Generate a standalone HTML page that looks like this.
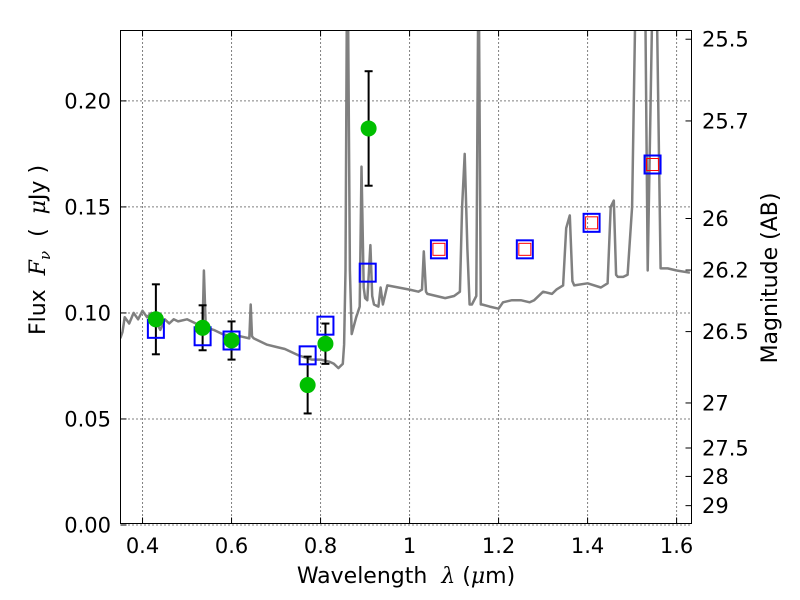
<!DOCTYPE html>
<html><head><meta charset="utf-8"><style>
html,body{margin:0;padding:0;background:#fff;}
svg{display:block;font-family:"DejaVu Sans","Liberation Sans",sans-serif;}
svg text{white-space:pre;}
</style></head><body>
<svg id="chart" width="800" height="600" viewBox="0 0 800 600">
<rect width="800" height="600" fill="#fff"/>
<g id="grid"></g>
<g id="spec"></g>
<g id="marks"></g>
<rect x="120.5" y="30.5" width="571" height="493" fill="none" stroke="#000" stroke-width="1"/>
<g id="axes"></g>
<text x="406" y="583" font-size="22" text-anchor="middle">Wavelength  <tspan font-family="DejaVu Serif" font-style="italic">λ</tspan> (<tspan font-family="DejaVu Serif" font-style="italic">μ</tspan>m)</text>
<text transform="translate(45,250) rotate(-90)" font-size="22" text-anchor="middle">Flux  <tspan font-family="DejaVu Serif" font-style="italic">F</tspan><tspan font-family="DejaVu Serif" font-style="italic" font-size="15" dy="5">ν</tspan><tspan dy="-5">  (  </tspan><tspan font-family="DejaVu Serif" font-style="italic">μ</tspan>Jy )</text>
<text transform="translate(777,278) rotate(-90)" font-size="22" text-anchor="middle">Magnitude (AB)</text>
</svg>
<script>
const xTicks=[0.4,0.6,0.8,1.0,1.2,1.4,1.6];
const xTickLabels=["0.4","0.6","0.8","1","1.2","1.4","1.6"];
const yTicks=[0,0.05,0.1,0.15,0.2];
const yTickLabels=["0.00","0.05","0.10","0.15","0.20"];
const magTicks=[25.5,25.7,26,26.2,26.5,27,27.5,28,29];
const magTickLabels=["25.5","25.7","26","26.2","26.5","27","27.5","28","29"];
const specWave=[0.35,0.355,0.36,0.37,0.38,0.39,0.40,0.41,0.42,0.43,0.44,0.45,0.46,0.47,0.48,0.50,0.52,0.53,0.535,0.538,0.542,0.545,0.56,0.58,0.60,0.62,0.64,0.643,0.646,0.65,0.68,0.70,0.72,0.75,0.78,0.80,0.82,0.83,0.84,0.85,0.853,0.856,0.859,0.862,0.866,0.87,0.88,0.888,0.892,0.897,0.90,0.905,0.912,0.916,0.92,0.93,0.935,0.94,0.95,1.0,1.02,1.028,1.032,1.037,1.04,1.06,1.08,1.10,1.113,1.118,1.124,1.130,1.135,1.14,1.15,1.154,1.156,1.160,1.163,1.18,1.20,1.21,1.23,1.25,1.27,1.28,1.30,1.32,1.33,1.345,1.352,1.360,1.366,1.37,1.40,1.43,1.445,1.452,1.459,1.464,1.468,1.48,1.49,1.50,1.507,1.515,1.530,1.535,1.545,1.549,1.556,1.564,1.58,1.60,1.63];
const specFlux=[0.088,0.091,0.098,0.095,0.100,0.097,0.101,0.098,0.100,0.096,0.092,0.097,0.095,0.097,0.096,0.097,0.095,0.092,0.094,0.120,0.094,0.093,0.092,0.090,0.089,0.089,0.088,0.104,0.089,0.088,0.085,0.084,0.083,0.080,0.078,0.078,0.077,0.076,0.074,0.076,0.085,0.120,0.24,0.24,0.12,0.090,0.098,0.103,0.169,0.112,0.107,0.106,0.132,0.108,0.104,0.103,0.112,0.104,0.113,0.111,0.110,0.111,0.129,0.110,0.109,0.108,0.107,0.108,0.110,0.150,0.175,0.130,0.104,0.104,0.108,0.24,0.24,0.104,0.104,0.103,0.102,0.105,0.106,0.106,0.105,0.106,0.110,0.109,0.111,0.113,0.140,0.146,0.115,0.113,0.114,0.112,0.114,0.150,0.153,0.118,0.117,0.117,0.118,0.15,0.24,0.24,0.24,0.120,0.24,0.24,0.24,0.121,0.121,0.120,0.119];
const photWave=[0.43,0.535,0.60,0.771,0.811,0.908];
const photFlux=[0.097,0.093,0.087,0.066,0.0855,0.187];
const photErr=[0.0165,0.0106,0.009,0.0134,0.0095,0.027];
const modelWave=[0.43,0.535,0.60,0.771,0.811,0.906,1.066,1.259,1.409,1.546];
const modelFlux=[0.0925,0.089,0.087,0.080,0.094,0.119,0.130,0.130,0.1425,0.170];
const irWave=[1.066,1.259,1.409,1.546];
const irFlux=[0.130,0.130,0.1425,0.170];

const NS="http://www.w3.org/2000/svg";
const X0=120.5,X1=691.5,Y0=30.5,Y1=523.5;
const xMin=0.3505,xMax=1.6335,yMin=0.0007,yMax=0.2332;
const sx=v=>X0+(v-xMin)/(xMax-xMin)*(X1-X0);
const sy=v=>Y1-(v-yMin)/(yMax-yMin)*(Y1-Y0);
const magToFlux=m=>Math.pow(10,(23.9-m)/2.5);
function mk(tag,attrs,parent){const e=document.createElementNS(NS,tag);for(const k in attrs)e.setAttribute(k,attrs[k]);parent.appendChild(e);return e;}
const grid=document.getElementById('grid'),axes=document.getElementById('axes'),spec=document.getElementById('spec'),marks=document.getElementById('marks');

xTicks.forEach((t,i)=>{const x=sx(t);
 const g=mk('line',{x1:x,x2:x,y1:Y0,y2:Y1,stroke:'#000','stroke-width':1,'stroke-dasharray':'1,3'},grid);
 
 
 mk('line',{x1:x,x2:x,y1:Y1,y2:Y1-6,stroke:'#000'},axes);
 mk('line',{x1:x,x2:x,y1:Y0,y2:Y0+6,stroke:'#000'},axes);
 const tx=mk('text',{x:x,y:553,'font-size':21,'text-anchor':'middle'},axes);tx.textContent=xTickLabels[i];
 
 
});
yTicks.forEach((t,i)=>{const y=sy(t);
 const g=mk('line',{x1:X0,x2:X1,y1:y,y2:y,stroke:'#000','stroke-width':1,'stroke-dasharray':'1,3'},grid);
 
 
 mk('line',{x1:X0,x2:X0+6,y1:y,y2:y,stroke:'#000'},axes);
 const tx=mk('text',{x:111,y:y+7.5,'font-size':21,'text-anchor':'end'},axes);tx.textContent=yTickLabels[i];
 
 
});
magTicks.forEach((m,i)=>{const y=sy(magToFlux(m));
 mk('line',{x1:X1,x2:X1-6,y1:y,y2:y,stroke:'#000'},axes);
 const tx=mk('text',{x:702,y:y+7.5,'font-size':21},axes);tx.textContent=magTickLabels[i];
 
 
});

const clip=mk('clipPath',{id:'pc'},document.getElementById('chart'));
mk('rect',{x:X0,y:Y0,width:X1-X0,height:Y1-Y0},clip);
spec.setAttribute('clip-path','url(#pc)');
const pts=specWave.map((w,i)=>sx(w).toFixed(1)+','+sy(specFlux[i]).toFixed(1)).join(' ');
const pl=mk('polyline',{points:pts,fill:'none',stroke:'#808080','stroke-width':2.5,'stroke-linejoin':'round'},spec);



photWave.forEach((w,i)=>{const x=sx(w),y=sy(photFlux[i]),ya=sy(photFlux[i]+photErr[i]),yb=sy(photFlux[i]-photErr[i]);
 const eb=mk('g',{},marks);
 
 
 mk('line',{x1:x,x2:x,y1:ya,y2:yb,stroke:'#000','stroke-width':2},eb);
 mk('line',{x1:x-4,x2:x+4,y1:ya,y2:ya,stroke:'#000','stroke-width':2},eb);
 mk('line',{x1:x-4,x2:x+4,y1:yb,y2:yb,stroke:'#000','stroke-width':2},eb);
});
modelWave.forEach((w,i)=>{const x=sx(w),y=sy(modelFlux[i]);
 const r=mk('rect',{x:x-8,y:y-9,width:16,height:18,fill:'none',stroke:'#0000ff','stroke-width':2},marks);
 
 
});
irWave.forEach((w,i)=>{const x=sx(w),y=sy(irFlux[i]);
 const r=mk('rect',{x:x-6,y:y-6,width:12,height:12,fill:'none',stroke:'#ff0000','stroke-width':1},marks);
 
 
});
photWave.forEach((w,i)=>{
 const c=mk('circle',{cx:sx(w),cy:sy(photFlux[i]),r:8,fill:'#00bf00'},marks);
 
 
});
</script>
</body></html>
